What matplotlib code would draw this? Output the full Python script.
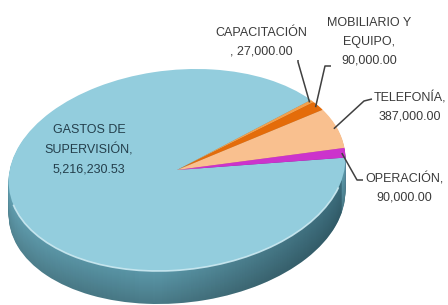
import numpy as np
import matplotlib.pyplot as plt
import matplotlib.colors as mcolors
from matplotlib.transforms import Affine2D
from matplotlib.patches import Arc, PathPatch
from matplotlib.path import Path

plt.rcParams['font.family'] = ['Liberation Sans', 'DejaVu Sans']

# data
categories = ['GASTOS DE\nSUPERVISIÓN,\n5,216,230.53',
              'CAPACITACIÓN\n, 27,000.00',
              'MOBILIARIO Y\nEQUIPO,\n90,000.00',
              'TELEFONÍA,\n387,000.00',
              'OPERACIÓN,\n90,000.00']
values = [5216230.53, 27000.00, 90000.00, 387000.00, 90000.00]
explode = [0, 0, 0, 0, 0.035]

top_colors = ['#93cddd', '#f4a04c', '#e46c0a', '#f9c08f', '#cc33cc']
side_colors = ['#5b98a9', '#b8661c', '#a8530a', '#c99468', '#7a2a92']

# pie geometry (pixels, y up)
W, H = 448, 305
cx, cy = 177, 135
a, b = 169, 100
tilt = 6
depth = 33
start = -3

fig = plt.figure(figsize=(W / 100, H / 100), dpi=100)
ax = fig.add_axes([0, 0, 1, 1])


def pie_tr(d):
    return Affine2D().scale(1, b / a).rotate_deg(tilt).translate(cx, cy - d)


# side: stacked layers, a bit darker towards the bottom
for d in np.arange(depth, 0, -1):
    k = d / depth
    cols = [mcolors.to_hex(np.array(mcolors.to_rgb(c)) * (1 - 0.2 * k)) for c in side_colors]
    ws, _ = ax.pie(values, colors=cols, explode=explode, startangle=start,
                   counterclock=False, radius=a)
    for w in ws:
        w.set_transform(pie_tr(d) + ax.transData)

# horizontal shading of the visible side band
sil = -np.degrees(np.arctan2(b * np.sin(np.radians(tilt)), a * np.cos(np.radians(tilt))))
t = np.radians(np.linspace(sil - 12, sil - 180, 120))
ring = np.column_stack([a * np.cos(t), a * np.sin(t)])
low = pie_tr(depth).transform(ring)
up = pie_tr(0).transform(ring[::-1])
band = PathPatch(Path(np.vstack([low, up, low[:1]]), closed=True),
                 facecolor='none', edgecolor='none')
ax.add_patch(band)
gx = np.linspace(0, 1, 200)
shade = np.zeros((1, 200, 4))
light = np.clip(1 - gx / 0.4, 0, 1)
dark = np.clip((gx - 0.45) / 0.55, 0, 1)
shade[0, :, :3] = (light[:, None] * np.array([0.6, 0.85, 0.92]) +
                   dark[:, None] * np.array([0.05, 0.17, 0.22]))
shade[0, :, 3] = 0.12 * light + 0.4 * dark
img = ax.imshow(shade, extent=(cx - a, cx + a, 0, H), aspect='auto', zorder=1.5,
                interpolation='bilinear')
img.set_clip_path(band)

# top surface
wedges, _ = ax.pie(values, colors=top_colors, explode=explode, startangle=start,
                   counterclock=False, radius=a, wedgeprops=dict(zorder=2))
for w in wedges:
    w.set_transform(pie_tr(0) + ax.transData)

# light rim highlight on the front edge
rim = Arc((0, 0), 2 * a, 2 * a, theta1=190, theta2=340, color='#cdeaf2', lw=1.2,
          alpha=0.9, zorder=2.5)
rim.set_transform(pie_tr(0) + ax.transData)
ax.add_patch(rim)

ax.set_xlim(0, W)
ax.set_ylim(0, H)
ax.set_aspect('auto')
ax.axis('off')


def rim_point(w, frac=0.98):
    tm = np.deg2rad((w.theta1 + w.theta2) / 2)
    cxw, cyw = w.center
    return pie_tr(0).transform([cxw + a * frac * np.cos(tm), cyw + a * frac * np.sin(tm)])


# labels (positions in image pixels, y down)
label_pos = [(89, 150), (261, 42), (369, 42), (410, 107), (404, 188)]
label_colors = ['#243f4c', '#3a3a3a', '#3a3a3a', '#3a3a3a', '#3a3a3a']
for txt, (x, y), c in zip(categories, label_pos, label_colors):
    ax.text(x, H - y, txt, ha='center', va='center', fontsize=9,
            color=c, linespacing=1.75, zorder=3)

# leader lines: label end, short stub, then to the slice
leaders = {1: [(298, 60), (298, 62)],
           2: [(331, 66), (325, 66)],
           3: [(372, 99), (364, 101)],
           4: [(363, 180), (357, 180)]}
for i, pts in leaders.items():
    px, py = rim_point(wedges[i])
    xs = [p[0] for p in pts] + [px]
    ys = [H - p[1] for p in pts] + [py]
    ax.plot(xs, ys, color='#404040', lw=1.1, solid_capstyle='butt', zorder=3)

fig.savefig('out.png', dpi=100)
